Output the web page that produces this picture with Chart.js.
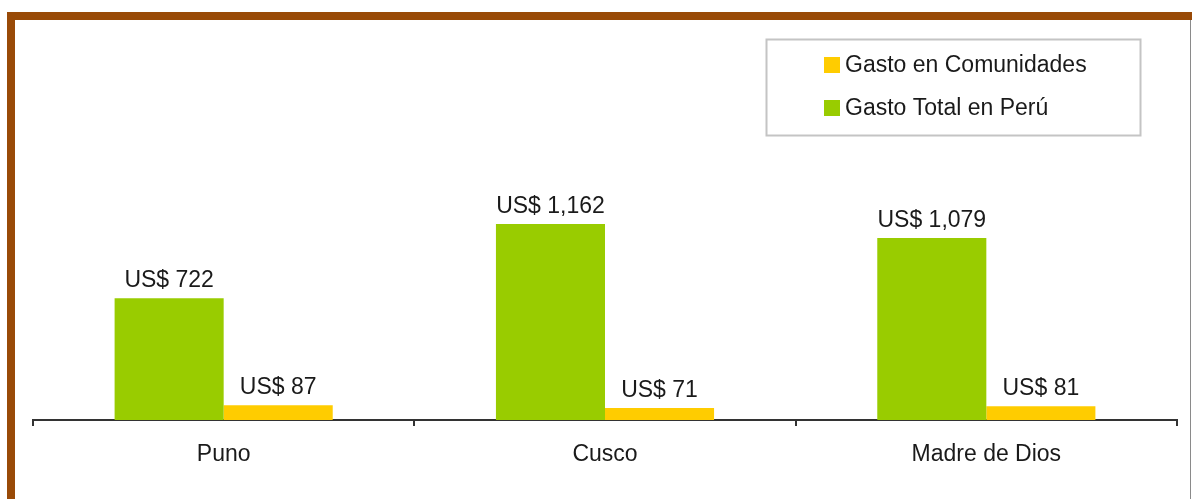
<!DOCTYPE html>
<html>
<head>
<meta charset="utf-8">
<script src="https://cdn.jsdelivr.net/npm/chart.js@4/dist/chart.umd.min.js"></script>
<style>
  html, body { margin: 0; padding: 0; background: #fff; }
  body { width: 1192px; height: 499px; position: relative; overflow: hidden; }
  #frame {
    position: absolute; left: 7px; top: 12px; right: 0; bottom: 0;
    border-top: 8px solid #994a07; border-left: 8px solid #994a07;
  }
  #edge { position: absolute; left: 1190px; top: 20px; width: 1px; bottom: 0; background: #8a8a8a; }
  #wrap { position: absolute; left: 0; top: 0; width: 1192px; height: 499px; }
</style>
</head>
<body>
<div id="frame"></div>
<div id="edge"></div>
<div id="wrap"><canvas id="chart"></canvas></div>
<script>
'use strict';

const regions = ['Puno', 'Cusco', 'Madre de Dios'];
const gastoTotal = [722, 1162, 1079];
const gastoComunidades = [87, 71, 81];

const FONT = '"Liberation Sans", Arial, sans-serif';

// value labels over each bar: "US$ 1,162"
const barLabels = {
  id: 'barLabels',
  afterDatasetsDraw(chart) {
    const ctx = chart.ctx;
    ctx.save();
    ctx.font = '23px ' + FONT;
    ctx.fillStyle = '#1a1a1a';
    ctx.textAlign = 'center';
    ctx.textBaseline = 'bottom';
    chart.data.datasets.forEach((ds, i) => {
      chart.getDatasetMeta(i).data.forEach((bar, j) => {
        ctx.fillText('US$ ' + ds.data[j].toLocaleString('en-US'), bar.x, bar.y - 6);
      });
    });
    ctx.restore();
  }
};

// boxed legend, top right, comunidades first
const boxLegend = {
  id: 'boxLegend',
  afterDraw(chart) {
    const ctx = chart.ctx;
    const box = { x: 766.5, y: 39.5, w: 374, h: 96 };
    ctx.save();
    ctx.strokeStyle = '#c4c4c4';
    ctx.lineWidth = 2;
    ctx.strokeRect(box.x, box.y, box.w, box.h);
    ctx.font = '23px ' + FONT;
    ctx.textBaseline = 'middle';
    const items = chart.data.datasets.slice().reverse();
    items.forEach((ds, i) => {
      const cy = 65 + i * 43;
      ctx.fillStyle = ds.backgroundColor;
      ctx.fillRect(824, cy - 8, 16, 16);
      ctx.fillStyle = '#1a1a1a';
      ctx.fillText(ds.label, 845, cy + 1);
    });
    ctx.restore();
  }
};

new Chart(document.getElementById('chart'), {
  type: 'bar',
  data: {
    labels: regions,
    datasets: [
      { label: 'Gasto Total en Perú', data: gastoTotal, backgroundColor: '#99cc00' },
      { label: 'Gasto en Comunidades', data: gastoComunidades, backgroundColor: '#ffcc00' }
    ]
  },
  options: {
    responsive: true, maintainAspectRatio: false, animation: false,
    categoryPercentage: 0.572, barPercentage: 1,
    layout: { padding: { left: 33, right: 15, top: 20, bottom: 0 } },
    plugins: { legend: { display: false }, tooltip: { enabled: false } },
    scales: {
      x: {
        grid: { offset: true, drawOnChartArea: false, drawTicks: true, tickLength: 6, color: '#333', lineWidth: 2 },
        border: { display: true, color: '#333', width: 2 },
        ticks: { color: '#1a1a1a', font: { family: FONT, size: 23 }, padding: 15 },
        afterFit(axis) { axis.height = 79; }
      },
      y: { display: false, min: 0, max: 2370 }
    }
  },
  plugins: [barLabels, boxLegend]
});
</script>
</body>
</html>
